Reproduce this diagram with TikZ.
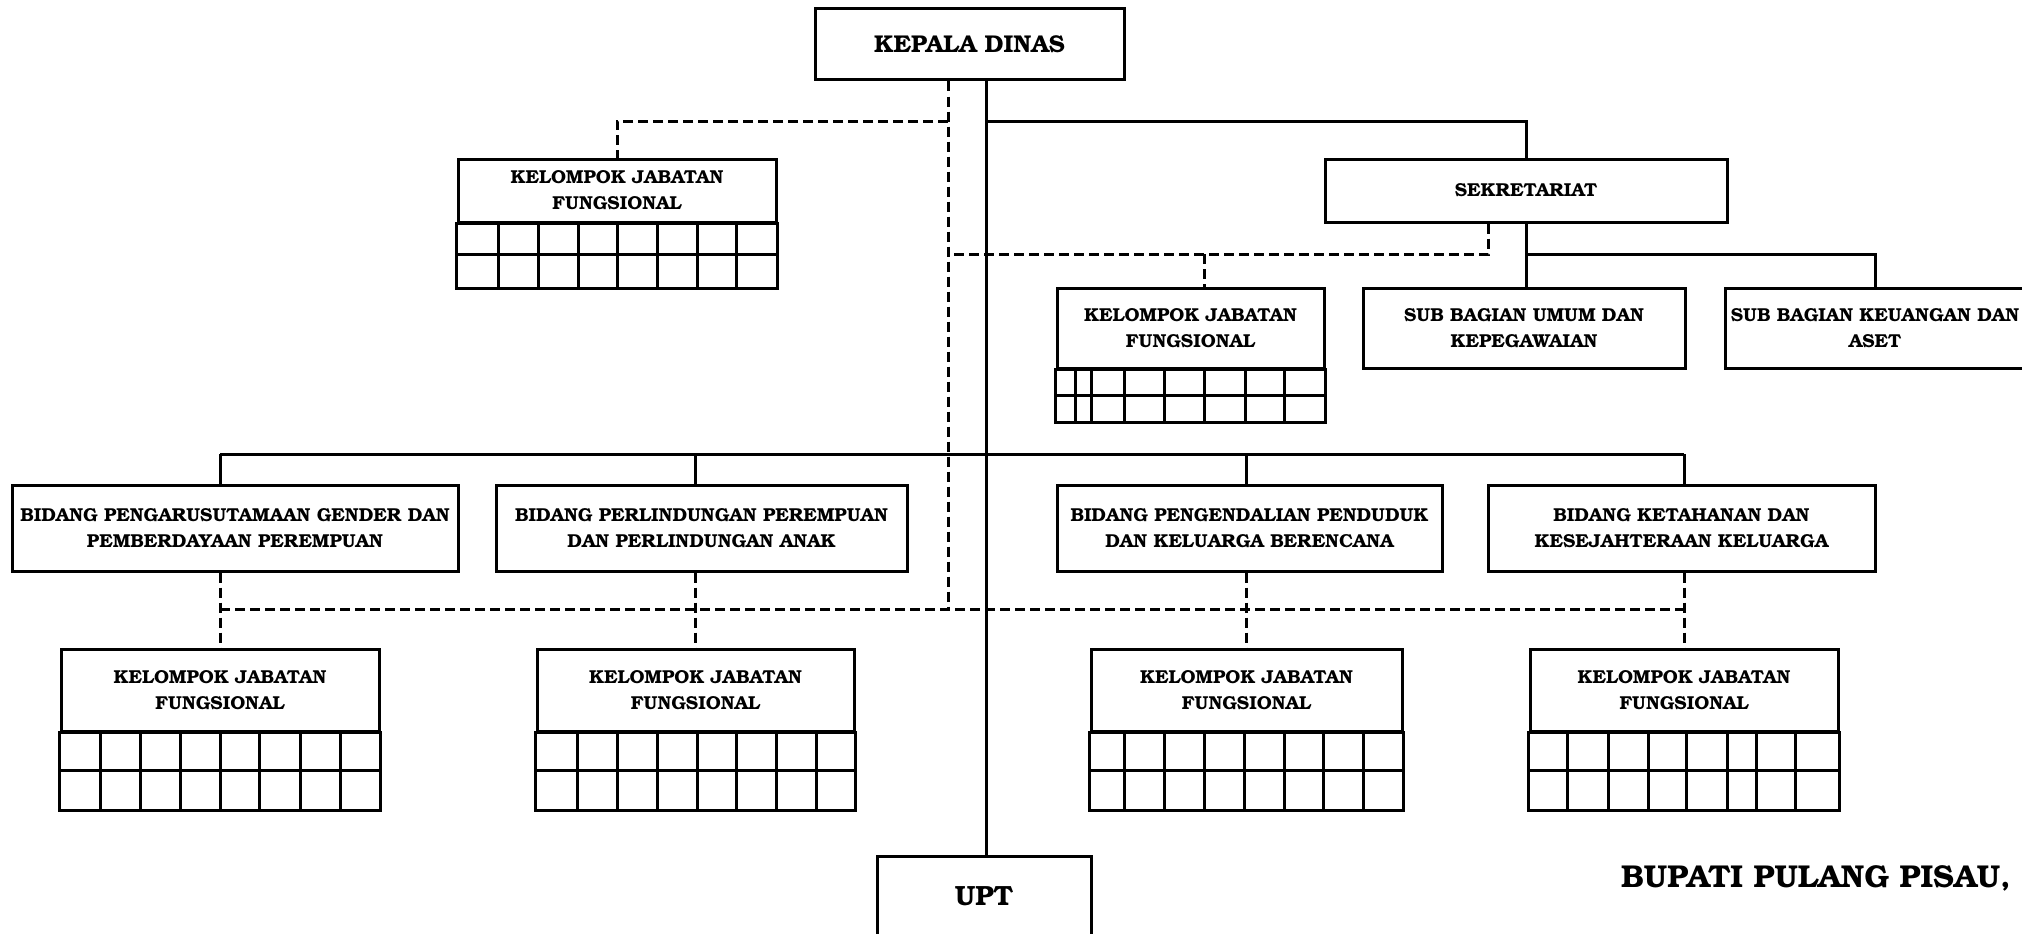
\documentclass[tikz,border=0pt]{standalone}
\usepackage[T1]{fontenc}
\usepackage{bookman}
\usepackage{tikz}

% two rows of empty cells under a jabatan fungsional box
\newcommand{\jfgrid}[4]{%
  \draw[gridline] (#1.south west) rectangle (#1.south east |- 0,#3);
  \draw[gridline] (#1.south west |- 0,#2) -- (#1.south east |- 0,#2);
  \foreach \gx in {#4} {\draw[gridline] (\gx,0 |- #1.south) -- (\gx,#3);}
}

\begin{document}
\begin{tikzpicture}[x=1pt,y=-1pt,
    unit/.style={draw, line width=3pt, inner sep=0pt, align=center,
      font=\bfseries\fontsize{18.7}{26}\selectfont},
    line/.style={line width=3pt},
    dline/.style={line width=3pt, dash pattern=on 10pt off 5pt},
    gridline/.style={line width=3pt}]
  \useasboundingbox (0,0) rectangle (2022,934);
  \clip (0,0) rectangle (2022,934);

  % pimpinan dan sekretariat
  \node[unit, minimum width=309pt, minimum height=71pt,
    font=\bfseries\fontsize{24.3}{28}\selectfont] (kepala) at (969.5,44.5) {KEPALA DINAS};
  \node[unit, minimum width=318pt, minimum height=63pt] (jf0) at (617,190.5) {KELOMPOK JABATAN\\FUNGSIONAL};
  \node[unit, minimum width=402pt, minimum height=63pt] (sekre) at (1526,190.5) {SEKRETARIAT};
  \node[unit, minimum width=267pt, minimum height=80pt] (jfsekre) at (1190.5,328) {KELOMPOK JABATAN\\FUNGSIONAL};
  \node[unit, minimum width=322pt, minimum height=80pt] (umum) at (1524,328) {SUB BAGIAN UMUM DAN\\KEPEGAWAIAN};
  \node[unit, minimum width=300pt, minimum height=80pt] (keu) at (1875,328) {SUB BAGIAN KEUANGAN DAN\\ASET};

  % bidang
  \node[unit, minimum width=446pt, minimum height=86pt] (pug) at (235,528) {BIDANG PENGARUSUTAMAAN GENDER DAN\\PEMBERDAYAAN PEREMPUAN};
  \node[unit, minimum width=411pt, minimum height=86pt] (ppa) at (701.5,528) {BIDANG PERLINDUNGAN PEREMPUAN\\DAN PERLINDUNGAN ANAK};
  \node[unit, minimum width=385pt, minimum height=86pt] (ppkb) at (1249.5,528) {BIDANG PENGENDALIAN PENDUDUK\\DAN KELUARGA BERENCANA};
  \node[unit, minimum width=387pt, minimum height=86pt] (kkk) at (1681.5,528) {BIDANG KETAHANAN DAN\\KESEJAHTERAAN KELUARGA};

  \node[unit, minimum width=318pt, minimum height=82pt] (jfpug) at (220,690) {KELOMPOK JABATAN\\FUNGSIONAL};
  \node[unit, minimum width=317pt, minimum height=82pt] (jfppa) at (695.5,690) {KELOMPOK JABATAN\\FUNGSIONAL};
  \node[unit, minimum width=311pt, minimum height=82pt] (jfppkb) at (1246.5,690) {KELOMPOK JABATAN\\FUNGSIONAL};
  \node[unit, minimum width=308pt, minimum height=82pt] (jfkkk) at (1684,690) {KELOMPOK JABATAN\\FUNGSIONAL};

  \node[unit, minimum width=214pt, minimum height=80pt,
    font=\bfseries\fontsize{27.8}{32}\selectfont] (upt) at (984,896) {UPT};
  \node[anchor=base west, inner sep=0pt,
    font=\bfseries\fontsize{31.6}{38}\selectfont] (bupati) at (1621,887) {BUPATI PULANG PISAU,};

  \jfgrid{jf0}{254}{288}{498,538,578,617,657,697,736}
  \jfgrid{jfsekre}{395}{422}{1075,1091,1124,1164,1204,1245,1284}
  \jfgrid{jfpug}{770}{810}{100,140,180,220,259,300,340}
  \jfgrid{jfppa}{770}{810}{577,617,657,697,736,776,816}
  \jfgrid{jfppkb}{770}{810}{1124,1164,1204,1244,1284,1323,1363}
  \jfgrid{jfkkk}{770}{810}{1567,1608,1648,1686,1727,1756,1795}

  % garis komando dan koordinasi
  \coordinate (solid) at (986,0);
  \coordinate (dash) at (948,0);
  \coordinate (sekdash) at (1488,0);
  \coordinate (jfdash) at (1204,0);
  \coordinate (topbus) at (0,121);
  \coordinate (sekbus) at (0,254);
  \coordinate (bidbus) at (0,454);
  \coordinate (jfbus) at (0,609);

  \draw[line] (kepala.south -| solid) -- (upt.north -| solid);
  \draw[dline] (kepala.south -| dash) -- (dash |- jfbus);
  \draw[dline] (dash |- topbus) -| (jf0.north);
  \draw[line] (solid |- topbus) -| (sekre.north);
  \draw[line] (sekre.south) -- (sekre.south |- umum.north);
  \draw[line] (sekre.south |- sekbus) -| (keu.north);
  \draw[dline] (sekre.south -| sekdash) |- (dash |- sekbus);
  \draw[dline] (jfdash |- sekbus) -- (jfdash |- jfsekre.north);
  \draw[line] (jfpug.north |- bidbus) -- (jfkkk.north |- bidbus);
  \draw[dline] (jfpug.north |- jfbus) -- (jfkkk.north |- jfbus);
  \foreach \b/\j in {pug/jfpug, ppa/jfppa, ppkb/jfppkb, kkk/jfkkk} {
    \draw[line] (\j.north |- bidbus) -- (\j.north |- \b.north);
    \draw[dline] (\j.north |- \b.south) -- (\j.north);
  }
\end{tikzpicture}
\end{document}
